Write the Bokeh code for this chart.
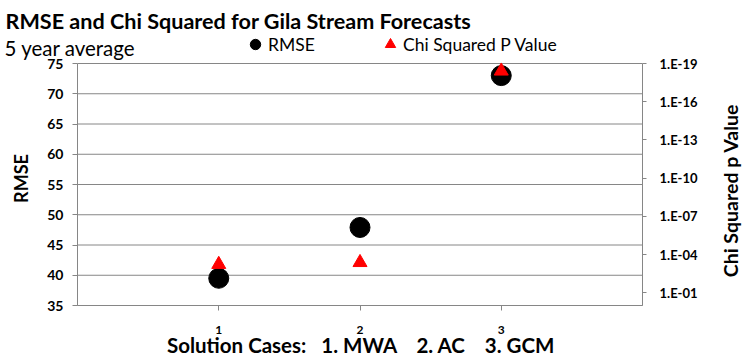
import math
from bokeh.plotting import figure
from bokeh.models import (Range1d, LogScale, LogAxis, LinearAxis, FixedTicker, CustomJSTickFormatter,
                          Label, Legend, LegendItem)
from bokeh.embed import file_html
from bokeh.resources import INLINE

# ---- data ----
cases = [1, 2, 3]
rmse = [39.5, 47.9, 73.0]
chi_p = [5.9e-4, 4.2e-4, 3.9e-19]
rmse_ticks = [35, 40, 45, 50, 55, 60, 65, 70, 75]
p_ticks = [1e-19, 1e-16, 1e-13, 1e-10, 1e-7, 1e-4, 1e-1]
x_ticks = [1, 2, 3]
x_bounds = (0, 4)
y_bounds = (35, 75)
p_bounds = (1e-19, 1)

NB = "\u00a0"
title_text = "RMSE and Chi Squared for Gila Stream Forecasts"
subtitle_text = "5 year average"
xlabel_text = ("Solution Cases:" + NB * 3 + "1. MWA" + NB * 4 + "2. AC" + NB * 4 + "3. GCM")
ylabel_text = "RMSE"
y2label_text = "Chi Squared p Value"
leg1_text = "RMSE"
leg2_text = "Chi Squared P Value"

FONT = "Lato"
GRAY = "#868686"

# ---- layout: the frame covers the whole canvas; axes are pinned inside it ----
W, H = 753, 358
PX_L, PX_R, PX_T, PX_B = 77, 642, 63, 305          # plot-area edges in pixels
sx = (PX_R - PX_L) / (x_bounds[1] - x_bounds[0])
sy = (PX_B - PX_T) / (y_bounds[1] - y_bounds[0])
xs = x_bounds[0] - PX_L / sx
xe = xs + W / sx
ys = y_bounds[0] - (H - PX_B) / sy
ye = ys + H / sy
dec = (PX_B - PX_T) / 19.0
ps = 10 ** ((H - PX_B) / dec)
pe = 10 ** ((H - PX_B) / dec - H / dec)

p = figure(width=W, height=H, x_range=Range1d(xs, xe), y_range=Range1d(ys, ye),
           output_backend="svg", toolbar_location=None,
           min_border=0, x_axis_type=None, y_axis_type=None)
p.outline_line_color = None
p.background_fill_color = "white"
p.border_fill_color = "white"
p.grid.visible = False

p.extra_y_ranges = {"p": Range1d(start=ps, end=pe)}
p.extra_y_scales = {"p": LogScale()}

def style_axis(ax, tick_out, standoff, size):
    ax.axis_line_color = GRAY
    ax.major_tick_line_color = GRAY
    ax.major_tick_out = tick_out
    ax.major_tick_in = 0
    ax.minor_tick_line_color = None
    ax.major_label_standoff = standoff
    ax.major_label_text_font = FONT
    ax.major_label_text_font_style = "bold"
    ax.major_label_text_font_size = size
    ax.major_label_text_color = "black"

# gridlines (under everything)
p.segment(x0=[x_bounds[0]] * len(rmse_ticks), x1=[x_bounds[1]] * len(rmse_ticks),
          y0=rmse_ticks, y1=rmse_ticks, line_color=GRAY, line_width=1)

ya = LinearAxis(ticker=FixedTicker(ticks=rmse_ticks), bounds=y_bounds, fixed_location=x_bounds[0])
style_axis(ya, 5, 9, "14px")
p.add_layout(ya, "left")

xa = LinearAxis(ticker=FixedTicker(ticks=x_ticks), bounds=x_bounds, fixed_location=y_bounds[0])
style_axis(xa, 5, 15, "12px")
p.add_layout(xa, "below")

ra = LogAxis(y_range_name="p", ticker=FixedTicker(ticks=p_ticks), bounds=p_bounds,
             fixed_location=x_bounds[1],
             formatter=CustomJSTickFormatter(code="""
const e = Math.round(Math.log10(tick));
const s = String(Math.abs(e)).padStart(2, "0");
return "1.E" + (e < 0 ? "-" : "+") + s;
"""))
style_axis(ra, 4, 13, "13px")
p.add_layout(ra, "right")

# glyphs
r1 = p.scatter(cases, rmse, size=20, color="black")
r2 = p.scatter(cases, chi_p, marker="triangle", size=14, color="red", y_range_name="p")

# legends
common = dict(padding=0, margin=0, spacing=0, border_line_alpha=0, background_fill_alpha=0,
              glyph_width=26, glyph_height=26, label_height=26, label_standoff=0,
              label_text_font=FONT, label_text_font_size="17.5px", label_text_color="black",
              orientation="horizontal")
leg1 = Legend(items=[LegendItem(label=leg1_text, renderers=[r1])], location=(242, H - 57), **common)
leg2 = Legend(items=[LegendItem(label=leg2_text, renderers=[r2])], location=(377, H - 57), **common)
p.add_layout(leg1, "center")
p.add_layout(leg2, "center")

def xd(X):
    return xs + X / sx

def yd(Y):
    return ys + (H - Y) / sy

p.add_layout(Label(x=xd(5), y=yd(20), text=title_text, text_font=FONT, text_font_style="bold",
                   text_font_size="21.6px", text_color="black", text_align="left",
                   text_baseline="alphabetic"))
p.add_layout(Label(x=xd(4), y=yd(47), text=subtitle_text, text_font=FONT,
                   text_font_size="20.5px", text_color="black", text_align="left",
                   text_baseline="alphabetic"))
p.add_layout(Label(x=xd(360.5), y=yd(344), text=xlabel_text, text_font=FONT, text_font_style="bold",
                   text_font_size="20.5px", text_color="black", text_align="center",
                   text_baseline="alphabetic"))
p.add_layout(Label(x=xd(20), y=yd(178), text=ylabel_text, text_font=FONT, text_font_style="bold",
                   text_font_size="18px", text_color="black", text_align="center",
                   text_baseline="middle", angle=math.pi / 2))
p.add_layout(Label(x=xd(729.5), y=yd(190), text=y2label_text, text_font=FONT, text_font_style="bold",
                   text_font_size="19.5px", text_color="black", text_align="center",
                   text_baseline="middle", angle=math.pi / 2))

open("out.html", "w").write(file_html(p, INLINE))
